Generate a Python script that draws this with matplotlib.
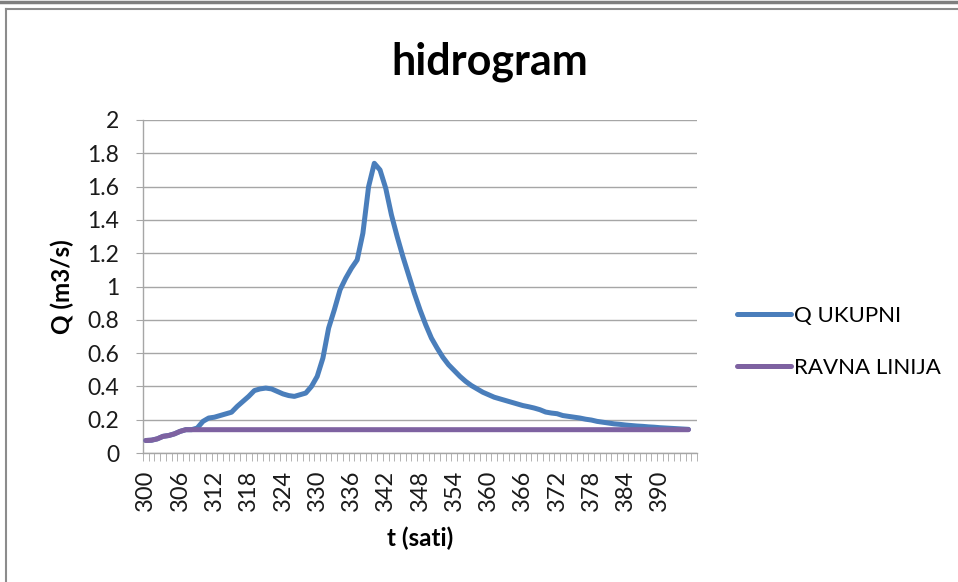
import numpy as np
import matplotlib.pyplot as plt
from matplotlib.lines import Line2D

plt.rcParams['font.family'] = ['Lato', 'DejaVu Sans']

# hours (categories) and flows
hours = np.arange(300, 397)
q_ukupni = [0.075, 0.077, 0.085, 0.10, 0.105, 0.115, 0.13, 0.14, 0.14, 0.15,
            0.19, 0.21, 0.215, 0.225, 0.235, 0.245, 0.28, 0.31, 0.34, 0.375,
            0.385, 0.39, 0.385, 0.37, 0.355, 0.345, 0.34, 0.35, 0.36, 0.40,
            0.46, 0.57, 0.75, 0.86, 0.98, 1.05, 1.11, 1.16, 1.32, 1.60,
            1.74, 1.70, 1.59, 1.43, 1.30, 1.18, 1.07, 0.96, 0.86, 0.77,
            0.69, 0.63, 0.575, 0.53, 0.495, 0.46, 0.43, 0.405, 0.385, 0.365,
            0.35, 0.335, 0.325, 0.315, 0.305, 0.295, 0.285, 0.278, 0.27, 0.26,
            0.246, 0.24, 0.236, 0.225, 0.22, 0.215, 0.21, 0.203, 0.198, 0.19,
            0.185, 0.18, 0.175, 0.172, 0.168, 0.165, 0.162, 0.16, 0.157, 0.155,
            0.152, 0.15, 0.148, 0.146, 0.144, 0.142, np.nan]
ravna_linija = [0.075, 0.077, 0.085, 0.10, 0.105, 0.115, 0.13] + [0.14] * 89 + [np.nan]
y_ticks = [0, 0.2, 0.4, 0.6, 0.8, 1, 1.2, 1.4, 1.6, 1.8, 2]
x_labels = list(range(300, 396, 6))

blue = '#4A7EBB'
purple = '#7E62A1'
grid = '#A6A6A6'

fig = plt.figure(figsize=(9.58, 5.82), dpi=100)

# chart border (part of a document page)
fig.add_artist(Line2D([6 / 958, 6 / 958], [0, 1 - 9 / 582], color='#8C8C8C', lw=1.5))
fig.add_artist(Line2D([6 / 958, 1], [1 - 9 / 582] * 2, color='#8C8C8C', lw=1.5))
fig.add_artist(Line2D([0, 1], [1 - 1.5 / 582] * 2, color='#7F7F7F', lw=2.5))

ax = fig.add_axes([143 / 958, 129 / 582, (697 - 143) / 958, (453 - 120) / 582])

ax.plot(hours, q_ukupni, color=blue, lw=3.6, solid_capstyle='round',
        solid_joinstyle='round', label='Q UKUPNI', zorder=3)
ax.plot(hours, ravna_linija, color=purple, lw=3.6, solid_capstyle='round',
        solid_joinstyle='round', label='RAVNA LINIJA', zorder=4)

ax.set_xlim(299.5, 396.5)
ax.set_ylim(0, 2)
ax.set_yticks(y_ticks)
ax.set_yticklabels(['0', '0.2', '0.4', '0.6', '0.8', '1', '1.2', '1.4', '1.6', '1.8', '2'])
ax.set_xticks(x_labels)
ax.set_xticklabels([str(v) for v in x_labels], rotation=90)
ax.set_xticks(np.arange(299.5, 397, 1), minor=True)
ax.tick_params(axis='x', which='major', length=0, pad=12, labelsize=17, labelcolor='#1a1a1a')
ax.tick_params(axis='x', which='minor', length=6, color=grid, direction='out')
ax.tick_params(axis='y', length=5, color=grid, labelsize=16.5, labelcolor='#1a1a1a', pad=12)

ax.grid(axis='y', color=grid, lw=1)
ax.set_axisbelow(True)
for s in ['top', 'right']:
    ax.spines[s].set_visible(False)
for s in ['left', 'bottom']:
    ax.spines[s].set_color(grid)
    ax.spines[s].set_linewidth(1)

fig.text(490 / 958, 1 - 62 / 582, 'hidrogram', fontsize=31, fontweight='bold',
         ha='center', va='center')
ax.set_ylabel('Q (m3/s)', fontsize=17.5, fontweight='bold')
ax.set_xlabel('t (sati)', fontsize=17.5, fontweight='bold')
ax.yaxis.set_label_coords((62 - 143) / 554, 0.5)
ax.xaxis.set_label_coords(0.5, (453 - 538) / 333)
ax.yaxis.label.set_va('center')
ax.xaxis.label.set_va('center')

ax.legend(loc='center left', bbox_to_anchor=(1.037, 0.333), frameon=False,
          fontsize=16, handlelength=2.4, handletextpad=0.15, labelspacing=1.45)

fig.savefig('out.png', dpi=100)
